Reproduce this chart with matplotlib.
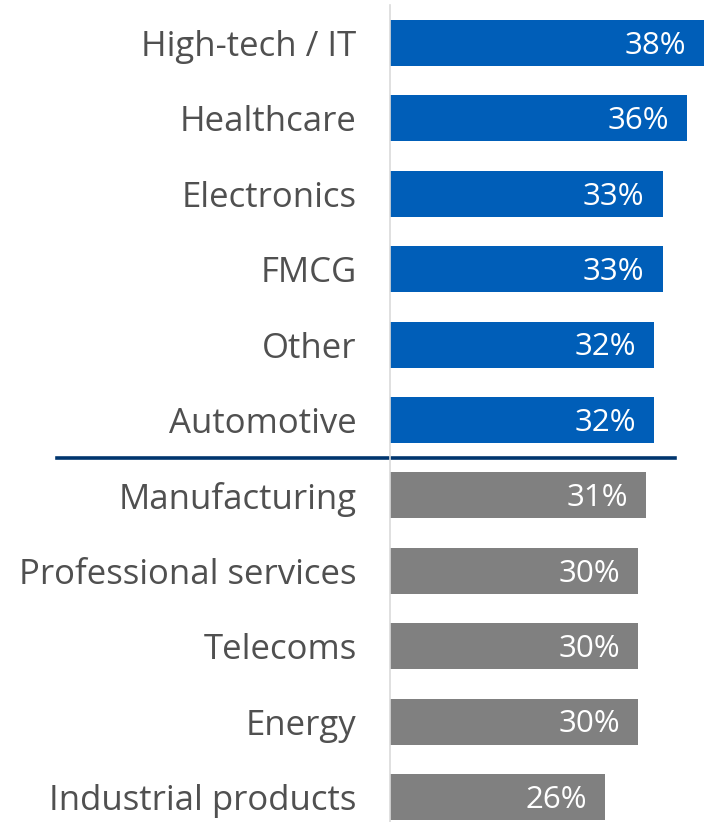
import matplotlib
matplotlib.use("Agg")
import matplotlib.pyplot as plt

categories = ["High-tech / IT", "Healthcare", "Electronics", "FMCG", "Other",
              "Automotive", "Manufacturing", "Professional services", "Telecoms",
              "Energy", "Industrial products"]
values = [38, 36, 33, 33, 32, 32, 31, 30, 30, 30, 26]
highlight_count = 6

BLUE = "#005EB8"
GREY = "#808080"
NAVY = "#00356E"
TEXT = "#505050"

W, H, DPI = 705, 822, 100
fig = plt.figure(figsize=(W / DPI, H / DPI), dpi=DPI)
plt.rcParams["font.family"] = ["Open Sans", "DejaVu Sans"]

left_px, top_px = 390, 5
ax = fig.add_axes([left_px / W, 0, (W - left_px) / W, (H - top_px) / H])

px_per_unit = 8.26
ax.set_xlim(0, (W - left_px) / px_per_unit)
row_px, first_px = 75.4, 43
ax.set_ylim((H - first_px) / row_px, -(first_px - top_px) / row_px)

ypos = list(range(len(categories)))
colors = [BLUE if i < highlight_count else GREY for i in ypos]
ax.barh(ypos, values, height=0.61, color=colors)

for y, v in zip(ypos, values):
    ax.annotate(f"{v}%", xy=(v, y), xytext=(-13, -2), textcoords="offset points",
                ha="right", va="center", color="white", fontsize=22.5)

ax.set_yticks(ypos)
ax.set_yticklabels(categories, fontsize=25, color=TEXT)
ax.tick_params(axis="y", length=0, pad=24)
ax.set_xticks([])

for s in ["top", "right", "bottom"]:
    ax.spines[s].set_visible(False)
ax.spines["left"].set_color("#DADADA")
ax.spines["left"].set_linewidth(1.2)

# divider between the highlighted sectors and the rest
span = W - left_px
ax.axhline(highlight_count - 0.5, xmin=(57 - left_px) / span, xmax=(675 - left_px) / span,
           color=NAVY, linewidth=2.6, clip_on=False)

fig.savefig("out.png", dpi=DPI)
